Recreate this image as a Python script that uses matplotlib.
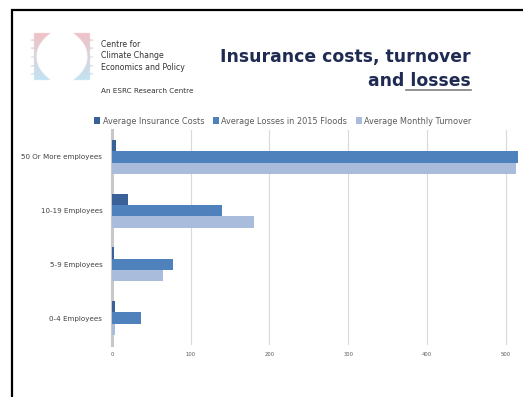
import numpy as np
import matplotlib
matplotlib.use("Agg")
import matplotlib.pyplot as plt
from matplotlib.patches import Patch

# ---- data ----
categories = ["0-4 Employees", "5-9 Employees", "10-19 Employees", "50 Or More employees"]
insurance_costs = [4, 2, 20, 5]
losses_2015 = [37, 77, 140, 516]
monthly_turnover = [4, 65, 180, 513]
series_names = ["Average Insurance Costs", "Average Losses in 2015 Floods", "Average Monthly Turnover"]
x_ticks = [0, 100, 200, 300, 400, 500]

colors = ["#3A6197", "#4F81BD", "#A9BCDB"]

W, H = 523, 397
fig = plt.figure(figsize=(W / 100, H / 100), dpi=100)
fig.patch.set_facecolor("white")

# ---- bar chart ----
ax = fig.add_axes([112 / W, 1 - 345 / H, (519 - 112) / W, (345 - 130) / H])
y = np.arange(len(categories))
h = 0.21
for i, (vals, c) in enumerate(zip([insurance_costs, losses_2015, monthly_turnover], colors)):
    ax.barh(y + (1 - i) * h, vals, height=h, color=c, zorder=3)
ax.set_ylim(-0.5, len(categories) - 0.5)
ax.set_xlim(0, 517)
ax.set_xticks(x_ticks)
ax.set_xticklabels([str(t) for t in x_ticks], fontsize=3.8, color="#595959")
ax.set_yticks(y)
ax.set_yticklabels(categories, fontsize=5.1, color="#404040")
ax.tick_params(axis="both", length=0, pad=5)
ax.tick_params(axis="y", pad=7)
ax.grid(axis="x", color="#D9D9D9", linewidth=0.8, zorder=0)
for s in ["top", "right", "bottom"]:
    ax.spines[s].set_visible(False)
ax.spines["left"].set_color("#C8C8C8")
ax.spines["left"].set_linewidth(2.2)

handles = [Patch(facecolor=c, edgecolor="none") for c in colors]
fig.legend(handles, series_names, loc="center", bbox_to_anchor=(283 / W, 1 - 121 / H),
           ncol=3, frameon=False, fontsize=5.9, labelcolor="#595959",
           handlelength=0.7, handleheight=0.9, handletextpad=0.3, columnspacing=1.1)

# ---- overlay for frame, logo and title (pixel coordinates) ----
ov = fig.add_axes([0, 0, 1, 1], zorder=-1)
ov.set_xlim(0, W)
ov.set_ylim(H, 0)
ov.axis("off")

# slide frame
ov.plot([12, 12, W], [H, 10, 10], color="black", linewidth=1.6, solid_joinstyle="miter")

# logo brackets with pink-to-blue gradient
lx0, lx1, ly0, ly1 = 30, 95, 30, 83
nx, ny = (lx1 - lx0) * 4, (ly1 - ly0) * 4
xs = np.linspace(lx0, lx1, nx)
ys = np.linspace(ly0, ly1, ny)
X, Y = np.meshgrid(xs, ys)
t = (Y - 33) / (80 - 33)
curve = np.clip(np.abs(t - 0.5) * 2, 0, 1) ** 2.2
inside_y = (Y >= 33) & (Y <= 80)
left_inner = 36.5 + 14 * curve
left = inside_y & (X >= 34) & (X <= left_inner)
right_inner = 87.5 - 14 * curve
right = inside_y & (X <= 90) & (X >= right_inner)
# small serif ticks on the outer sides
ticks = np.zeros_like(X, dtype=bool)
for ty in [40, 48, 57, 66, 74]:
    ticks |= (np.abs(Y - ty) < 0.6) & (((X >= 31) & (X < 34)) | ((X > 90) & (X <= 93)))
mask = left | right | ticks
pink = np.array([0.94, 0.76, 0.78])
blue = np.array([0.76, 0.89, 0.95])
tt = np.clip(t, 0, 1)[..., None]
rgb = pink * (1 - tt) + blue * tt
img = np.ones((ny, nx, 4))
img[..., :3] = rgb
img[..., 3] = mask.astype(float)
ov.imshow(img, extent=[lx0, lx1, ly1, ly0], interpolation="bilinear", zorder=2)

ov.text(101, 56, "Centre for\nClimate Change\nEconomics and Policy", fontsize=5.6,
        color="#333333", va="center", ha="left", linespacing=1.3)
ov.text(101, 91, "An ESRC Research Centre", fontsize=5.2, color="#333333",
        va="center", ha="left")

# title
title_color = "#1F2B52"
ov.text(471, 57, "Insurance costs, turnover", fontsize=12.4, fontweight="bold",
        color=title_color, ha="right", va="center")
ov.text(471, 81, "and losses", fontsize=12.4, fontweight="bold",
        color=title_color, ha="right", va="center")
ov.plot([406, 471], [89.5, 89.5], color="#7F7F7F", linewidth=1.2)

fig.savefig("out.png", dpi=100, facecolor="white")
